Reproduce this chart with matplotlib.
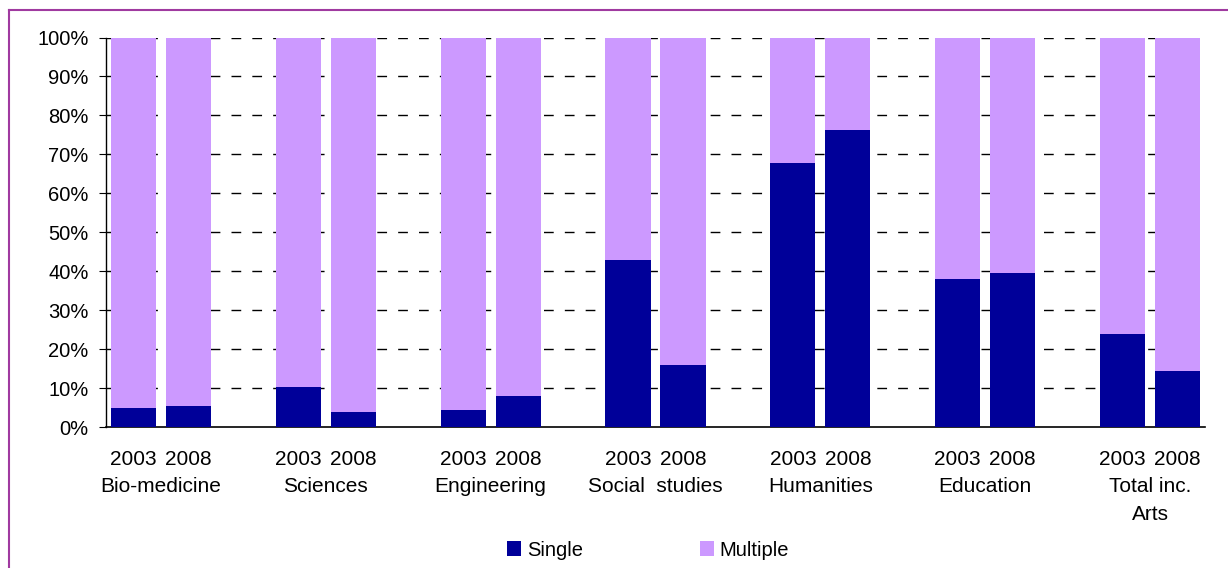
import matplotlib
matplotlib.use("Agg")
import matplotlib.pyplot as plt
from matplotlib.lines import Line2D
from matplotlib.patches import Patch
import numpy as np

plt.rcParams['font.family'] = ['Liberation Sans', 'DejaVu Sans']
plt.rcParams['lines.scale_dashes'] = False

# Share of single- vs multiple-authored output, by field and year
fields = ["Bio-medicine", "Sciences", "Engineering", "Social  studies",
          "Humanities", "Education", "Total inc.\nArts"]
years = ["2003", "2008"]
single = [4.9, 5.5, 10.4, 4.0, 4.5, 8.1, 43.0, 16.0,
          67.8, 76.2, 38.1, 39.7, 24.0, 14.5]
multiple = [100 - v for v in single]
yticks = list(range(0, 101, 10))

C_SINGLE = "#000099"
C_MULTI = "#CC99FF"
FS_X = 15
FS_Y = 14.5
FS_LEG = 14.5

W, H = 1228, 568
fig = plt.figure(figsize=(W / 100, H / 100), dpi=100)
ax = fig.add_axes([106 / W, 1 - 427.3 / H, (1205 - 106) / W, (427.3 - 37.5) / H])

# two bars per field, one empty slot between fields
pos = []
for g in range(len(fields)):
    pos += [3 * g, 3 * g + 1]
pos = np.array(pos)

ax.bar(pos, single, width=0.82, color=C_SINGLE, zorder=3)
ax.bar(pos, multiple, width=0.82, bottom=single, color=C_MULTI, zorder=3)

ax.set_xlim(-0.5, 19.5)
ax.set_ylim(0, 100)
ax.set_yticks(yticks)
ax.set_yticklabels([f"{t}%" for t in yticks], fontsize=FS_Y)
ax.set_xticks([])

for t in yticks[1:]:
    ax.axhline(t, color="black", lw=1.0, ls=(0, (7, 8)), zorder=1)

for s in ["top", "right"]:
    ax.spines[s].set_visible(False)
ax.spines["left"].set_linewidth(1.0)
ax.spines["bottom"].set_linewidth(1.2)
ax.tick_params(axis="y", direction="out", length=5, width=0.8, pad=7.5)

# year labels under each bar, field names under each pair
for i, p in enumerate(pos):
    ax.annotate(years[i % 2], xy=(p, 0), xycoords=("data", "axes fraction"),
                xytext=(0, -16), textcoords="offset points",
                ha="center", va="top", fontsize=FS_X)
for g, name in enumerate(fields):
    ax.annotate(name, xy=(3 * g + 0.5, 0), xycoords=("data", "axes fraction"),
                xytext=(0, -36), textcoords="offset points",
                ha="center", va="top", fontsize=FS_X, multialignment="center",
                linespacing=1.6)

handles = [Patch(facecolor=C_SINGLE, label="Single"),
           Patch(facecolor=C_MULTI, label="Multiple")]
fig.legend(handles=handles, loc="center", bbox_to_anchor=(648 / W, 1 - 550 / H),
           ncol=2, frameon=False, fontsize=FS_LEG, handlelength=0.7,
           handleheight=0.7, handletextpad=0.3, columnspacing=5.8)

# chart frame
frame = "#A03AA0"
fig.add_artist(Line2D([8.5 / W, 8.5 / W], [0, 1 - 10 / H], transform=fig.transFigure,
                      color=frame, lw=1.5))
fig.add_artist(Line2D([8.5 / W, 1], [1 - 10 / H, 1 - 10 / H], transform=fig.transFigure,
                      color=frame, lw=1.5))

fig.savefig("out.png", dpi=100)
